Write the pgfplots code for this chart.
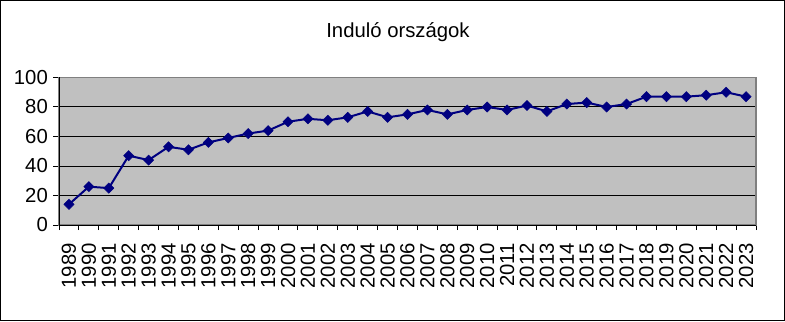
\documentclass[border=0pt]{standalone}
\usepackage{fontspec}
\setmainfont{Liberation Sans}
\usepackage{pgfplots}
\pgfplotsset{compat=1.18}
\definecolor{bgc}{RGB}{192,192,192}
\definecolor{navyc}{RGB}{0,0,128}
\definecolor{brd}{RGB}{128,128,128}
\begin{document}
\begin{tikzpicture}[x=1bp,y=1bp]
\useasboundingbox (0,0) rectangle (785,321);
\draw[black,line width=1bp] (0.5,0.5) rectangle (784.5,320.5);
\node[anchor=base,font=\fontsize{20.3bp}{24bp}\selectfont,inner sep=0] at (398,283.7) {Induló országok};
\begin{axis}[
  at={(59bp,96bp)}, anchor=south west,
  width=697bp, height=147.5bp, scale only axis,
  xmin=-0.5, xmax=34.5, ymin=0, ymax=100,
  xtick={0,...,34},
  xticklabels={1989,1990,1991,1992,1993,1994,1995,1996,1997,1998,1999,2000,2001,2002,2003,2004,2005,2006,2007,2008,2009,2010,2011,2012,2013,2014,2015,2016,2017,2018,2019,2020,2021,2022,2023},
  major x tick style={draw=none},
  minor xtick={-0.5,0.5,...,34.5},
  minor tick length=5bp,
  ytick={0,20,40,60,80,100},
  major tick length=6bp,
  tick align=outside,
  xtick pos=bottom, ytick pos=left,
  tick style={black,line width=1bp},
  ymajorgrids, grid style={black,line width=1bp},
  axis line style={draw=brd,line width=1.5bp},
  axis background/.style={fill=bgc},
  ticklabel style={font=\fontsize{20.3bp}{24bp}\selectfont},
  /pgf/number format/assume math mode=true,
  xticklabel style={rotate=90,anchor=east,inner sep=0pt,xshift=-12bp},
  yticklabel style={inner sep=0pt,xshift=-5bp},
  clip=false,
]
\addplot[navyc,line width=2bp,mark=square*,mark size=3.6bp,mark options={rotate=45,fill=navyc,draw=navyc,line width=0.5bp}] coordinates {
(0,14)(1,26)(2,25)(3,47)(4,44)(5,53)(6,51)(7,56)(8,59)(9,62)(10,64)(11,70)(12,72)(13,71)(14,73)(15,77)(16,73)(17,75)(18,78)(19,75)(20,78)(21,80)(22,78)(23,81)(24,77)(25,82)(26,83)(27,80)(28,82)(29,87)(30,87)(31,87)(32,88)(33,90)(34,87)
};
\draw[black,line width=1bp] (rel axis cs:0,1) -- (rel axis cs:0,0) -- (rel axis cs:1,0);
\end{axis}
\end{tikzpicture}
\end{document}
